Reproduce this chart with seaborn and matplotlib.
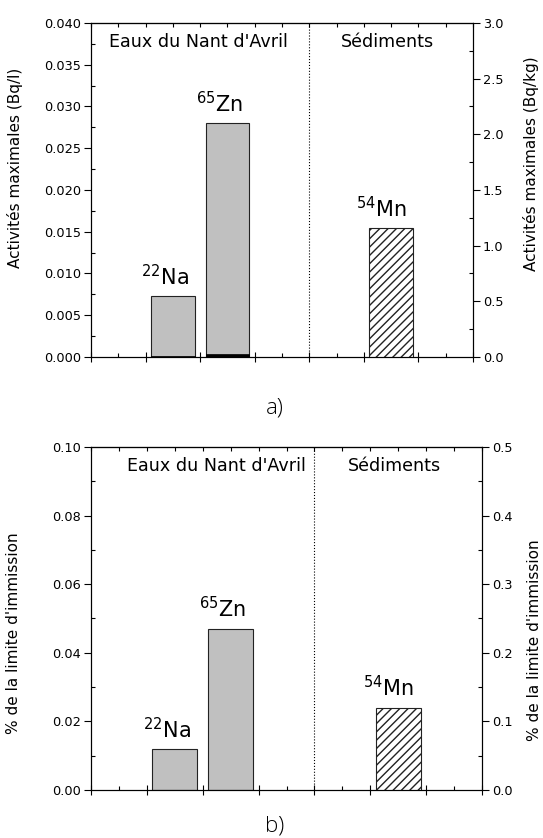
import numpy as np
import pandas as pd
import matplotlib
matplotlib.use("Agg")
import matplotlib.pyplot as plt
from matplotlib.ticker import MultipleLocator, FormatStrFormatter
import seaborn as sns

# values
water_nuclides = ['22Na', '65Zn']
water_activity = [0.0073, 0.028]        # Bq/l, grey bars
water_activity_low = [0.0001, 0.0004]   # Bq/l, black part at the foot of the bars
water_pct = [0.012, 0.047]              # % of immission limit
sed_nuclides = ['54Mn']
sed_activity = [1.16]                   # Bq/kg
sed_pct = [0.12]

# slot of each nuclide on the x scale (0..7)
slot = {'22Na': 1.5, '65Zn': 2.5, '54Mn': 5.5}

sns.set_style('ticks')
plt.rcParams['font.family'] = ['DejaVu Sans']
plt.rcParams['mathtext.fontset'] = 'dejavusans'
plt.rcParams['mathtext.default'] = 'regular'
plt.rcParams['axes.edgecolor'] = 'black'
plt.rcParams['axes.linewidth'] = 0.8
for k in ('text.color', 'axes.labelcolor', 'xtick.color', 'ytick.color'):
    plt.rcParams[k] = 'black'

water = pd.DataFrame({'nuclide': water_nuclides,
                      'pos': [slot[n] for n in water_nuclides],
                      'act': water_activity,
                      'low': water_activity_low,
                      'pct': water_pct})
sed = pd.DataFrame({'nuclide': sed_nuclides,
                    'pos': [slot[n] for n in sed_nuclides],
                    'act': sed_activity,
                    'pct': sed_pct})


def sup(name):
    return '$^{%s}$%s' % (name[:2], name[2:])


def panel(rect, wcol, scol, lmax, lmaj, lfmt, rmax, rmaj, rfmt, llab, rlab,
          llab_y, rlab_y, eaux_x, low=False):
    ax = fig.add_axes(rect)
    sns.barplot(data=water, x='pos', y=wcol, native_scale=True, errorbar=None,
                color='#c0c0c0', edgecolor='#222222', linewidth=0.8, width=0.8, ax=ax)
    if low:
        sns.barplot(data=water, x='pos', y='low', native_scale=True, errorbar=None,
                    color='black', edgecolor='black', linewidth=0.5, width=0.8, ax=ax)
    ax2 = ax.twinx()
    sns.barplot(data=sed, x='pos', y=scol, native_scale=True, errorbar=None,
                color='white', edgecolor='#222222', linewidth=0.8, width=0.8, ax=ax2)
    for p in ax2.patches:
        p.set_hatch('////')

    for a in (ax, ax2):
        a.set_xlim(0, 7)
        a.set_xlabel('')
    ax.set_ylim(0, lmax)
    ax2.set_ylim(0, rmax)

    ax.axvline(4, color='black', ls=':', lw=0.8)

    ax.xaxis.set_major_locator(MultipleLocator(1))
    ax.xaxis.set_minor_locator(MultipleLocator(0.5))
    ax.set_xticklabels([])
    ax.tick_params(axis='x', which='major', direction='inout', length=7, width=0.8)
    ax.tick_params(axis='x', which='minor', direction='in', length=3, width=0.8)
    ax2.tick_params(axis='x', which='both', bottom=False, top=False, labelbottom=False)

    top = ax.secondary_xaxis('top')
    top.set_xticks(np.arange(0, 7.01, 0.5))
    top.tick_params(direction='in', length=3, width=0.8, labeltop=False)

    ax.yaxis.set_major_locator(MultipleLocator(lmaj))
    ax.yaxis.set_minor_locator(MultipleLocator(lmaj / 2))
    ax.yaxis.set_major_formatter(FormatStrFormatter(lfmt))
    ax.tick_params(axis='y', which='major', direction='out', length=5, width=0.8,
                   labelsize=9.3, pad=2)
    ax.tick_params(axis='y', which='minor', direction='in', length=3, width=0.8)

    ax2.yaxis.set_major_locator(MultipleLocator(rmaj))
    ax2.yaxis.set_minor_locator(MultipleLocator(rmaj / 2))
    ax2.yaxis.set_major_formatter(FormatStrFormatter(rfmt))
    ax2.tick_params(axis='y', which='major', direction='out', length=5, width=0.8,
                    labelsize=9.3, pad=2)
    ax2.tick_params(axis='y', which='minor', direction='in', length=3, width=0.8)

    ax.set_ylabel(llab, fontsize=11)
    ax.yaxis.set_label_coords(-0.178, llab_y)
    ax2.set_ylabel(rlab, fontsize=11)
    ax2.yaxis.set_label_coords(rlab_x, rlab_y)

    ax.text(eaux_x, 0.944, "Eaux du Nant d'Avril", transform=ax.transAxes,
            fontsize=12.6, ha='left', va='center')
    ax.text(5.43 / 7, 0.944, 'Sédiments', transform=ax.transAxes,
            fontsize=12.6, ha='center', va='center')

    for _, r in water.iterrows():
        ax.annotate(sup(r['nuclide']), xy=(r['pos'], r[wcol]), xytext=(-6, 8),
                    textcoords='offset points', ha='center', va='baseline', fontsize=15)
    for _, r in sed.iterrows():
        ax2.annotate(sup(r['nuclide']), xy=(r['pos'], r[scol]), xytext=(-7, 8),
                     textcoords='offset points', ha='center', va='baseline', fontsize=15)
    return ax


fig = plt.figure(figsize=(5.43, 8.38), dpi=100)

rlab_x = 1.13
panel([0.1676, 0.574, 0.7035, 0.3986], 'act', 'act', 0.040, 0.005, '%.3f',
      3.0, 0.5, '%.1f', 'Activités maximales (Bq/l)', 'Activités maximales (Bq/kg)',
      0.565, 0.58, 0.047, low=True)
rlab_x = 1.115
panel([0.1676, 0.0573, 0.7201, 0.4093], 'pct', 'pct', 0.10, 0.02, '%.2f',
      0.5, 0.1, '%.1f', "% de la limite d'immission", "% de la limite d'immission",
      0.458, 0.437, 0.092)

fig.text(275 / 543, 1 - 408 / 838, 'a)', fontsize=16, fontweight='light',
         family=['Open Sans', 'DejaVu Sans'], ha='center', va='center')
fig.text(275 / 543, 1 - 826 / 838, 'b)', fontsize=16, fontweight='light',
         family=['Open Sans', 'DejaVu Sans'], ha='center', va='center')

fig.savefig('out.png', dpi=100)
